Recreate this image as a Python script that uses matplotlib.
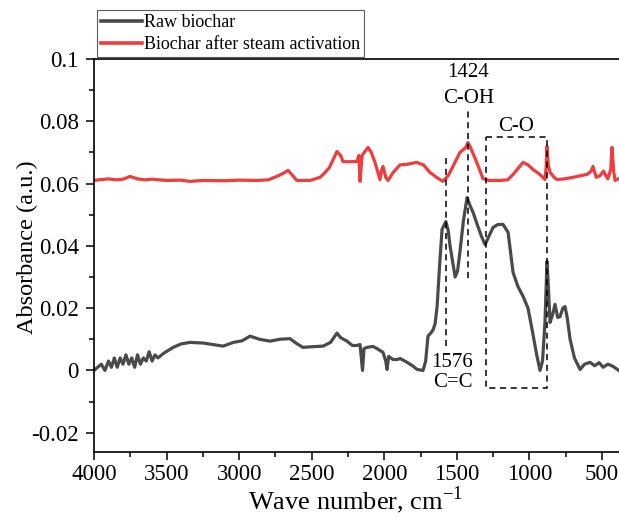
import matplotlib
matplotlib.use("Agg")
import matplotlib.pyplot as plt
from matplotlib.ticker import MultipleLocator, FixedLocator, FixedFormatter

plt.rcParams['font.family'] = ['Liberation Serif', 'DejaVu Serif']
plt.rcParams['mathtext.fontset'] = 'custom'
plt.rcParams['mathtext.rm'] = 'Liberation Serif'

# Raw biochar (wavenumber, absorbance)
raw_x = [4000, 3975, 3950, 3925, 3900, 3880, 3860, 3840, 3820, 3800, 3780, 3760, 3740, 3720,
         3700, 3680, 3660, 3640, 3620, 3600, 3580, 3560, 3520, 3455, 3400, 3338, 3250, 3180,
         3110, 3040, 2980, 2925, 2860, 2787, 2720, 2650, 2600, 2560, 2500, 2422, 2370, 2326,
         2300, 2257, 2220, 2190, 2167, 2150, 2140, 2119, 2078, 2050, 2009, 1990, 1981, 1970,
         1940, 1912, 1890, 1843, 1800, 1774, 1733, 1715, 1699, 1680, 1664, 1650, 1636, 1620,
         1602, 1576, 1560, 1547, 1512, 1495, 1479, 1455, 1430, 1410, 1388, 1355, 1330, 1306,
         1280, 1251, 1220, 1182, 1147, 1113, 1080, 1044, 1010, 982, 950, 927, 910, 893, 879,
         872, 858, 840, 824, 805, 789, 770, 755, 740, 720, 690, 651, 620, 583, 550, 520, 492,
         460, 424, 400, 385]
raw_y = [0.000, 0.001, 0.002, 0.000, 0.003, 0.001, 0.004, 0.001, 0.004, 0.002, 0.005, 0.002,
         0.004, 0.001, 0.005, 0.002, 0.004, 0.003, 0.006, 0.003, 0.005, 0.004, 0.0055, 0.0074,
         0.0085, 0.0090, 0.0088, 0.0083, 0.0078, 0.0090, 0.0095, 0.0110, 0.0100, 0.0094,
         0.0100, 0.0102, 0.0085, 0.0074, 0.0076, 0.0078, 0.0090, 0.0120, 0.0105, 0.0094,
         0.0080, 0.0080, 0.0083, 0.0000, 0.0070, 0.0074, 0.0077, 0.0070, 0.0058, 0.0030,
         0.0003, 0.0045, 0.0035, 0.0035, 0.0038, 0.0026, 0.0013, 0.0003, 0.0000, 0.0030,
         0.0110, 0.0120, 0.0130, 0.0150, 0.0206, 0.0330, 0.0453, 0.0478, 0.0450, 0.0400,
         0.0300, 0.0320, 0.0380, 0.0480, 0.0555, 0.0530, 0.0507, 0.0462, 0.0430, 0.0404,
         0.0430, 0.0459, 0.0468, 0.0469, 0.0443, 0.0315, 0.0270, 0.0238, 0.0200, 0.0132,
         0.0050, 0.0000, 0.0030, 0.0154, 0.0350, 0.0290, 0.0154, 0.0180, 0.0212, 0.0170,
         0.0173, 0.0200, 0.0205, 0.0170, 0.0100, 0.0040, 0.0003, 0.0020, 0.0026, 0.0015,
         0.0025, 0.0010, 0.0020, 0.0013, 0.0005, 0.0000]

# Biochar after steam activation
act_x = [4000, 3950, 3900, 3850, 3800, 3752, 3700, 3650, 3600, 3500, 3400, 3338, 3250, 3100,
         3000, 2878, 2800, 2740, 2700, 2663, 2630, 2602,
         2512, 2443, 2422, 2380, 2326, 2300, 2285, 2257, 2188, 2175, 2167, 2153, 2130, 2112,
         2090, 2064, 2030, 2020, 2009, 1990, 1974, 1940, 1892, 1840, 1778, 1730, 1686, 1640,
         1597, 1560, 1527, 1479, 1440, 1424, 1410, 1363, 1320, 1280, 1203, 1150, 1113, 1044,
         1010, 975, 930, 893, 885, 879, 870, 858, 830, 810, 760, 700, 650, 600, 575, 562, 540,
         514, 490, 460, 440, 431, 420, 410, 390]
act_y = [0.0610, 0.0613, 0.0615, 0.0612, 0.0614, 0.0623, 0.0615, 0.0612, 0.0614, 0.0610,
         0.0611, 0.0607, 0.0610, 0.0609,
         0.0611, 0.0610, 0.0612, 0.0623,
         0.0632, 0.0642, 0.0625, 0.0610, 0.0610, 0.0620, 0.0629, 0.0650, 0.0703, 0.0690,
         0.0671, 0.0670, 0.0671, 0.0690, 0.0607, 0.0690, 0.0705, 0.0716, 0.0700, 0.0668,
         0.0613, 0.0640, 0.0655, 0.0620, 0.0610, 0.0635, 0.0660, 0.0662, 0.0668, 0.0660,
         0.0636, 0.0620, 0.0607, 0.0625, 0.0655, 0.0700, 0.0715, 0.0732, 0.0720, 0.0668,
         0.0616, 0.0610, 0.0610, 0.0612, 0.0629, 0.0668, 0.0660, 0.0645, 0.0630, 0.0613,
         0.0650, 0.0719, 0.0660, 0.0636, 0.0620, 0.0613, 0.0615, 0.0620, 0.0625, 0.0630,
         0.0640, 0.0655, 0.0620, 0.0625, 0.0640, 0.0615, 0.0645, 0.0716, 0.0640, 0.0610,
         0.0615]

x_ticks = [4000, 3500, 3000, 2500, 2000, 1500, 1000, 500]
y_ticks = [-0.02, 0, 0.02, 0.04, 0.06, 0.08, 0.1]
y_tick_labels = ["-0.02", "0", "0.02", "0.04", "0.06", "0.08", "0.1"]

L, B, T = 94, 452, 59
fig = plt.figure(figsize=(6.19, 5.17), dpi=100)
ax = fig.add_axes([L/619, 1-B/517, 1-L/619, (B-T)/517])

ax.plot(raw_x, raw_y, color='#4a4a4a', lw=2.3, label='Raw biochar')
ax.plot(act_x, act_y, color='#f03c3c', lw=2.3, label='Biochar after steam activation')

dash = dict(color='black', lw=1.1, ls=(0, (4, 3)))
ax.plot([1576, 1576], [0.0077, 0.0687], **dash)
ax.plot([1424, 1424], [0.0298, 0.0847], **dash)
ax.plot([1300, 880, 880, 1300, 1300], [0.0748, 0.0748, -0.0058, -0.0058, 0.0748], **dash)

fs_ann = 15
ax.text(1420, 0.0957, "1424", ha='center', va='center', fontsize=fs_ann)
ax.text(1420, 0.0873, "C-OH", ha='center', va='center', fontsize=fs_ann)
ax.text(1090, 0.0783, "C-O", ha='center', va='center', fontsize=fs_ann)
ax.text(1530, 0.0026, "1576", ha='center', va='center', fontsize=fs_ann)
ax.text(1530, -0.0039, "C=C", ha='center', va='center', fontsize=fs_ann)

ax.set_xlim(4000, 383)
ax.set_ylim(-0.0262, 0.1)
ax.xaxis.set_major_locator(FixedLocator(x_ticks))
ax.xaxis.set_minor_locator(MultipleLocator(250))
ax.yaxis.set_major_locator(FixedLocator(y_ticks))
ax.yaxis.set_major_formatter(FixedFormatter(y_tick_labels))
ax.yaxis.set_minor_locator(MultipleLocator(0.01))
ax.tick_params(which='major', direction='out', length=6, width=1.1, labelsize=16.5)
ax.tick_params(axis='x', which='major', pad=3)
ax.tick_params(axis='y', which='major', pad=5)
ax.tick_params(which='minor', direction='out', length=3.5, width=1.1)
ax.tick_params(top=False, right=False)
ax.spines['right'].set_visible(False)
for s in ['left', 'bottom', 'top']:
    ax.spines[s].set_linewidth(1.2)

ax.set_xlabel("Wave number, cm$^{\\mathregular{-1}}$", fontsize=19)
ax.set_ylabel("Absorbance (a.u.)", fontsize=17.5)
ax.xaxis.set_label_coords((355 - L) / (619 - L), (B - 484) / (B - T))
ax.yaxis.set_label_coords((38 - L) / (619 - L), 0.52)

leg = fig.legend(loc='lower left', bbox_to_anchor=(97/619, 1-57/517), fontsize=13,
                 frameon=True, fancybox=False, edgecolor='#333333', handlelength=2.3,
                 handletextpad=0.1, borderpad=0.2, labelspacing=0.3, borderaxespad=0)
leg.get_frame().set_linewidth(0.8)
for line in leg.get_lines():
    line.set_linewidth(2.6)

fig.savefig("out.png", dpi=100)
